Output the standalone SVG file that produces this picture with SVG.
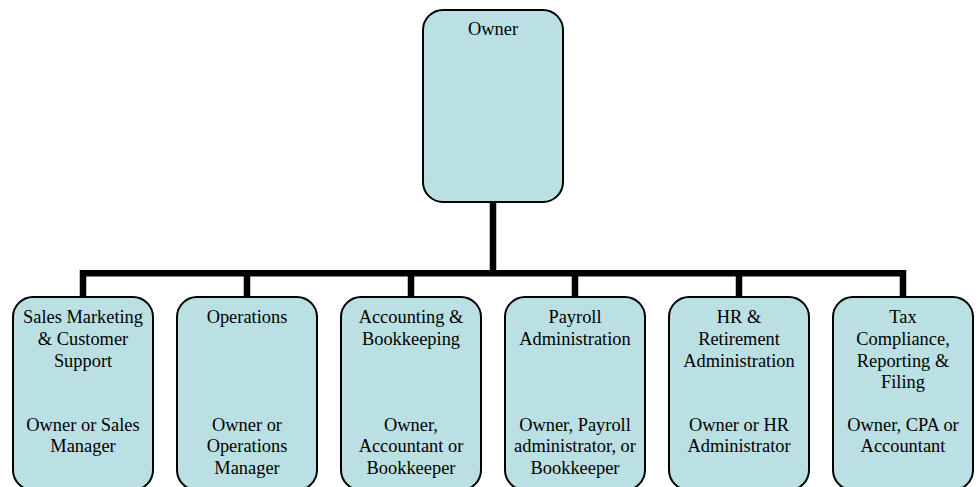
<svg xmlns="http://www.w3.org/2000/svg" width="979" height="487" viewBox="0 0 979 487">
<style>
.box{fill:#BAE0E3;stroke:#000;stroke-width:2}
.t{font-family:'Liberation Serif','Times New Roman',serif;font-size:18.4px;fill:#000;text-anchor:middle}
.c{fill:none;stroke:#000;stroke-width:6.5;stroke-linejoin:miter}
</style>
<rect width="979" height="487" fill="#fff"/>
<g id="connectors">
<path class="c" d="M83,297 V273.3 H903 V297 M247,273.3 V297 M411,273.3 V297 M575,273.3 V297 M739,273.3 V297 M493,202 V273.3"/>
</g>
<g id="owner">
<rect class="box" x="423" y="10" width="140" height="192" rx="20"/>
<text class="t" x="493" y="35">Owner</text>
</g>
<g id="sales">
<rect class="box" x="13" y="297" width="140" height="193" rx="20"/>
<text class="t" x="83" y="323.3">Sales Marketing</text>
<text class="t" x="83" y="345">&amp; Customer</text>
<text class="t" x="83" y="366.6">Support</text>
<text class="t" x="83" y="431">Owner or Sales</text>
<text class="t" x="83" y="452.3">Manager</text>
</g>
<g id="operations">
<rect class="box" x="177" y="297" width="140" height="193" rx="20"/>
<text class="t" x="247" y="323.3">Operations</text>
<text class="t" x="247" y="431">Owner or</text>
<text class="t" x="247" y="452.3">Operations</text>
<text class="t" x="247" y="473.6">Manager</text>
</g>
<g id="accounting">
<rect class="box" x="341" y="297" width="140" height="193" rx="20"/>
<text class="t" x="411" y="323.3">Accounting &amp;</text>
<text class="t" x="411" y="345">Bookkeeping</text>
<text class="t" x="411" y="431">Owner,</text>
<text class="t" x="411" y="452.3">Accountant or</text>
<text class="t" x="411" y="473.6">Bookkeeper</text>
</g>
<g id="payroll">
<rect class="box" x="505" y="297" width="140" height="193" rx="20"/>
<text class="t" x="575" y="323.3">Payroll</text>
<text class="t" x="575" y="345">Administration</text>
<text class="t" x="575" y="431">Owner, Payroll</text>
<text class="t" x="575" y="452.3">administrator, or</text>
<text class="t" x="575" y="473.6">Bookkeeper</text>
</g>
<g id="hr">
<rect class="box" x="669" y="297" width="140" height="193" rx="20"/>
<text class="t" x="739" y="323.3">HR &amp;</text>
<text class="t" x="739" y="345">Retirement</text>
<text class="t" x="739" y="366.6">Administration</text>
<text class="t" x="739" y="431">Owner or HR</text>
<text class="t" x="739" y="452.3">Administrator</text>
</g>
<g id="tax">
<rect class="box" x="833" y="297" width="140" height="193" rx="20"/>
<text class="t" x="903" y="323.3">Tax</text>
<text class="t" x="903" y="345">Compliance,</text>
<text class="t" x="903" y="366.6">Reporting &amp;</text>
<text class="t" x="903" y="388">Filing</text>
<text class="t" x="903" y="431">Owner, CPA or</text>
<text class="t" x="903" y="452.3">Accountant</text>
</g>
</svg>
